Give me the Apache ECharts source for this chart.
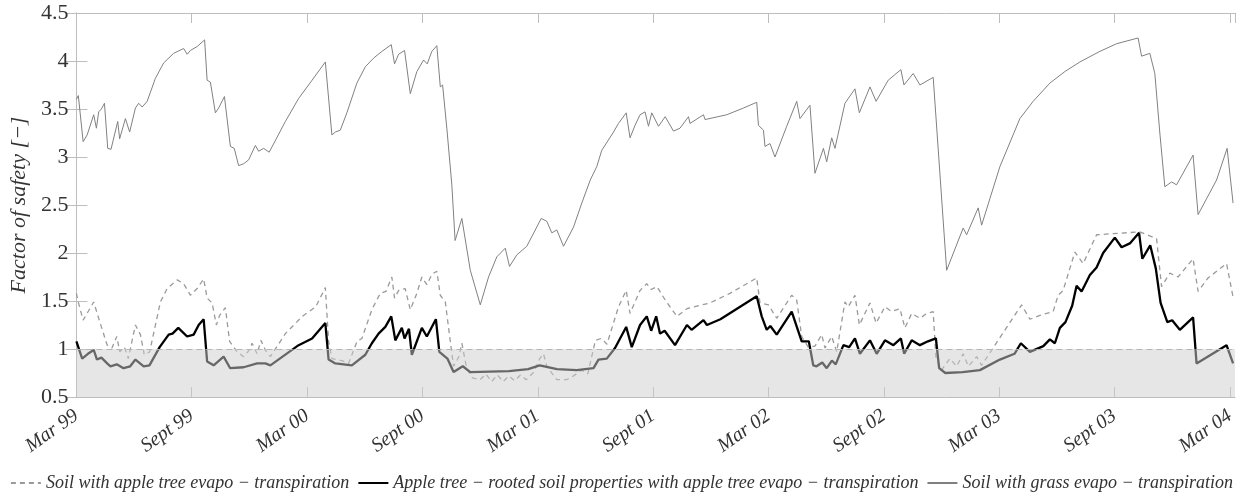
<!DOCTYPE html>
<html>
<head>
<meta charset="utf-8">
<script src="https://cdn.jsdelivr.net/npm/echarts@6/dist/echarts.min.js"></script>
<style>
  html, body { margin: 0; padding: 0; background: #fff; }
  #chart { width: 1243px; height: 493px; }
</style>
</head>
<body>
<div id="chart"></div>
<script>
// x = months since March 1999, y = factor of safety
const xTickLabels = ['Mar 99', 'Sept 99', 'Mar 00', 'Sept 00', 'Mar 01', 'Sept 01',
  'Mar 02', 'Sept 02', 'Mar 03', 'Sept 03', 'Mar 04'];

const seriesNames = [
  'Soil with apple tree evapo − transpiration',
  'Apple tree − rooted soil properties with apple tree evapo − transpiration',
  'Soil with grass evapo − transpiration'
];

const appleSoil = [
  [0, 1.58], [0.07, 1.51], [0.35, 1.30], [0.9, 1.49], [1.16, 1.32], [1.6, 1.04], [1.85, 1.01],
  [2.1, 1.13], [2.26, 0.97], [2.5, 1.02], [2.7, 0.90], [3.07, 1.25], [3.33, 1.15], [3.53, 0.94],
  [3.81, 0.97], [4.37, 1.49], [4.72, 1.63], [5.24, 1.72], [5.58, 1.68], [5.93, 1.56], [6.28, 1.63],
  [6.62, 1.73], [6.80, 1.53], [7.06, 1.48], [7.28, 1.25], [7.45, 1.35], [7.75, 1.43], [7.97, 1.08],
  [8.36, 0.97], [8.70, 0.92], [8.96, 0.98], [9.14, 1.06], [9.40, 0.95], [9.6, 1.09], [9.85, 0.98],
  [10.09, 0.92], [10.87, 1.16], [11.75, 1.34], [12.45, 1.44], [12.95, 1.64], [13.12, 1.08],
  [13.29, 0.90], [13.8, 0.88], [14.16, 0.85], [14.6, 1.08], [14.85, 1.11], [15.37, 1.41],
  [15.81, 1.58], [16.1, 1.60], [16.41, 1.75], [16.55, 1.53], [16.76, 1.61], [17.1, 1.63],
  [17.37, 1.41], [17.71, 1.58], [17.97, 1.75], [18.23, 1.67], [18.5, 1.78], [18.75, 1.81],
  [18.93, 1.56], [19.19, 1.49], [19.45, 1.08], [19.62, 0.82], [19.9, 0.92], [20.05, 1.06],
  [20.3, 0.80], [20.6, 0.70], [21.0, 0.68], [21.3, 0.74], [21.6, 0.66], [21.9, 0.73], [22.2, 0.66],
  [22.5, 0.72], [22.8, 0.67], [23.1, 0.73], [23.4, 0.68], [23.8, 0.76], [24.1, 0.90], [24.3, 0.95],
  [24.47, 0.82], [24.99, 0.68], [25.5, 0.68], [25.86, 0.72], [26.29, 0.78], [26.6, 0.74],
  [27.0, 1.09], [27.3, 1.11], [27.6, 1.05], [28.2, 1.44], [28.60, 1.61], [28.80, 1.37],
  [29.32, 1.61], [29.67, 1.68], [29.9, 1.62], [30.2, 1.65], [30.63, 1.51], [31.24, 1.34],
  [31.76, 1.42], [32.96, 1.48], [34.0, 1.58], [35.39, 1.74], [35.56, 1.48], [36.0, 1.46],
  [36.43, 1.32], [37.21, 1.56], [37.47, 1.51], [37.73, 1.13], [38.07, 1.02], [38.42, 1.03],
  [38.77, 1.15], [38.94, 1.01], [39.29, 1.13], [39.55, 0.97], [39.98, 1.49], [40.15, 1.44],
  [40.5, 1.56], [40.73, 1.25], [41.28, 1.48], [41.60, 1.27], [42.06, 1.44], [42.41, 1.39],
  [42.84, 1.42], [43.1, 1.22], [43.45, 1.37], [43.88, 1.32], [44.23, 1.37], [44.57, 1.39],
  [44.71, 0.92], [45.0, 0.78], [45.44, 0.90], [45.79, 0.82], [46.13, 0.95], [46.4, 0.82],
  [46.83, 0.92], [47.09, 0.83], [49.17, 1.46], [49.6, 1.31], [50.12, 1.35], [50.81, 1.39],
  [51.07, 1.56], [51.33, 1.61], [51.94, 2.01], [52.37, 1.89], [53.07, 2.19], [55.32, 2.22],
  [56.19, 2.15], [56.45, 1.65], [56.88, 1.79], [57.31, 1.75], [58.09, 1.94], [58.35, 1.60],
  [58.87, 1.74], [59.83, 1.89], [60.17, 1.54]
];

const appleRooted = [
  [0, 1.08], [0.07, 1.08], [0.3, 0.90], [0.6, 0.95], [0.9, 0.99], [1.07, 0.89], [1.3, 0.91],
  [1.6, 0.85], [1.77, 0.82], [2.1, 0.84], [2.45, 0.80], [2.8, 0.82], [3.07, 0.89], [3.5, 0.82],
  [3.8, 0.83], [4.33, 1.02], [4.8, 1.15], [5.0, 1.16], [5.3, 1.22], [5.4, 1.23], [5.76, 1.13],
  [6.1, 1.15], [6.36, 1.25], [6.62, 1.31], [6.80, 0.87], [7.14, 0.83], [7.66, 0.92], [8.0, 0.80],
  [8.7, 0.81], [9.4, 0.85], [9.83, 0.85], [10.09, 0.83], [11.56, 1.04], [12.26, 1.11],
  [12.95, 1.27], [13.12, 0.89], [13.47, 0.85], [14.33, 0.83], [15.03, 0.94], [15.37, 1.06],
  [15.72, 1.16], [16.07, 1.23], [16.38, 1.34], [16.59, 1.09], [16.93, 1.22], [17.07, 1.11],
  [17.3, 1.21], [17.45, 0.94], [17.97, 1.22], [18.23, 1.13], [18.70, 1.31], [18.88, 0.97],
  [19.3, 0.90], [19.62, 0.76], [20.1, 0.82], [20.49, 0.76], [22.5, 0.77], [23.5, 0.79],
  [24.1, 0.83], [25.0, 0.79], [26.03, 0.78], [26.9, 0.80], [27.16, 0.89], [27.59, 0.90],
  [28.02, 1.01], [28.60, 1.23], [28.89, 1.02], [29.32, 1.25], [29.67, 1.34], [29.9, 1.19],
  [30.16, 1.34], [30.36, 1.16], [30.6, 1.19], [31.14, 1.04], [31.76, 1.25], [32.0, 1.20],
  [32.62, 1.30], [32.8, 1.25], [33.5, 1.31], [35.39, 1.55], [35.65, 1.34], [35.91, 1.20],
  [36.1, 1.24], [36.43, 1.15], [37.21, 1.39], [37.73, 1.08], [38.1, 1.08], [38.33, 0.83],
  [38.5, 0.82], [38.8, 0.86], [39.03, 0.80], [39.3, 0.88], [39.5, 0.84], [39.9, 1.04],
  [40.2, 1.02], [40.5, 1.11], [40.76, 0.95], [41.28, 1.09], [41.63, 0.95], [42.06, 1.09],
  [42.5, 1.04], [42.89, 1.11], [43.06, 0.95], [43.45, 1.09], [43.88, 1.04], [44.3, 1.08],
  [44.71, 1.11], [44.88, 0.80], [45.2, 0.75], [46.1, 0.76], [47.0, 0.78], [48.04, 0.89],
  [48.8, 0.95], [49.13, 1.06], [49.6, 0.97], [50.3, 1.03], [50.64, 1.10], [50.9, 1.06],
  [51.16, 1.22], [51.45, 1.28], [51.8, 1.45], [52.03, 1.66], [52.29, 1.60], [52.72, 1.77],
  [53.07, 1.85], [53.41, 2.00], [54.02, 2.16], [54.37, 2.06], [54.8, 2.10], [55.28, 2.21],
  [55.45, 1.94], [55.86, 2.08], [56.15, 1.84], [56.4, 1.48], [56.75, 1.28], [57.0, 1.30],
  [57.40, 1.20], [58.09, 1.33], [58.27, 0.85], [59.83, 1.04], [60.17, 0.85]
];

const grassSoil = [
  [0, 3.60], [0.1, 3.64], [0.35, 3.16], [0.56, 3.23], [0.9, 3.44], [1.04, 3.30], [1.16, 3.47],
  [1.3, 3.50], [1.46, 3.56], [1.63, 3.09], [1.8, 3.08], [2.15, 3.37], [2.25, 3.19], [2.55, 3.40],
  [2.77, 3.26], [3.07, 3.51], [3.24, 3.56], [3.42, 3.52], [3.68, 3.58], [4.11, 3.82], [4.54, 3.98],
  [5.06, 4.08], [5.58, 4.13], [5.76, 4.07], [5.93, 4.11], [6.28, 4.15], [6.67, 4.22], [6.80, 3.80],
  [6.97, 3.78], [7.23, 3.46], [7.40, 3.51], [7.70, 3.63], [8.01, 3.11], [8.21, 3.09], [8.44, 2.91],
  [8.70, 2.93], [8.96, 2.97], [9.31, 3.12], [9.48, 3.06], [9.74, 3.09], [10.03, 3.05],
  [10.87, 3.37], [11.56, 3.61], [12.26, 3.80], [12.95, 3.99], [13.29, 3.23], [13.47, 3.26],
  [13.73, 3.28], [14.07, 3.46], [14.59, 3.77], [15.03, 3.94], [15.46, 4.03], [15.89, 4.10],
  [16.38, 4.17], [16.55, 3.97], [16.76, 4.07], [17.07, 4.11], [17.37, 3.66], [17.71, 3.89],
  [18.06, 4.01], [18.25, 3.97], [18.49, 4.10], [18.75, 4.16], [18.93, 3.73], [19.05, 3.75],
  [19.27, 3.30], [19.53, 2.71], [19.70, 2.13], [20.05, 2.36], [20.49, 1.82], [21.01, 1.46],
  [21.44, 1.75], [21.87, 1.96], [22.31, 2.05], [22.53, 1.86], [22.91, 1.98], [23.43, 2.07],
  [24.18, 2.36], [24.47, 2.33], [24.73, 2.21], [24.99, 2.24], [25.34, 2.07], [25.86, 2.27],
  [26.29, 2.52], [26.73, 2.76], [27.07, 2.90], [27.33, 3.07], [27.94, 3.26], [28.20, 3.35],
  [28.60, 3.46], [28.80, 3.20], [29.06, 3.33], [29.32, 3.44], [29.58, 3.47], [29.76, 3.32],
  [29.93, 3.46], [30.28, 3.32], [30.63, 3.42], [31.06, 3.27], [31.40, 3.30], [31.84, 3.42],
  [31.92, 3.35], [32.62, 3.44], [32.70, 3.39], [33.83, 3.44], [34.70, 3.51], [35.39, 3.57],
  [35.48, 3.33], [35.74, 3.28], [35.82, 3.11], [36.08, 3.14], [36.34, 3.00], [36.95, 3.32],
  [37.47, 3.58], [37.64, 3.40], [38.16, 3.54], [38.42, 2.83], [38.86, 3.09], [39.03, 2.95],
  [39.29, 3.20], [39.46, 3.09], [39.98, 3.56], [40.50, 3.71], [40.73, 3.46], [41.28, 3.73],
  [41.60, 3.58], [42.23, 3.80], [42.89, 3.91], [43.05, 3.75], [43.53, 3.87], [43.88, 3.75],
  [44.57, 3.83], [44.66, 3.82], [45.27, 1.82], [46.13, 2.26], [46.31, 2.19], [46.91, 2.47],
  [47.09, 2.29], [48.04, 2.90], [49.08, 3.40], [49.77, 3.58], [50.64, 3.77], [51.42, 3.89],
  [52.20, 3.99], [53.24, 4.10], [54.11, 4.18], [55.23, 4.24], [55.41, 4.05], [55.84, 4.08],
  [56.10, 3.87], [56.36, 3.25], [56.62, 2.69], [56.97, 2.74], [57.23, 2.71], [58.09, 3.02],
  [58.35, 2.40], [59.31, 2.76], [59.86, 3.09], [60.17, 2.52]
];

const failureLimit = 1;

const chart = echarts.init(document.getElementById('chart'));
const serif = "'Liberation Serif', 'Times New Roman', serif";
const frameColor = '#bdbdbd';

const tickFormatter = function (v) {
    const i = Math.round(v / 6);
    return Math.abs(v - i * 6) < 1e-6 ? (xTickLabels[i] || '') : '';
};

const option = {
    animation: false,
    textStyle: { fontFamily: serif },
    grid: { left: 76, right: 8, top: 13, bottom: 96 },
    legend: {
        top: 469,
        left: 'center',
        itemGap: 8,
        itemWidth: 30,
        itemHeight: 10,
        data: seriesNames,
        itemStyle: { opacity: 0 },
        textStyle: { fontFamily: serif, fontStyle: 'italic', fontSize: 18, color: '#333' }
    },
    xAxis: [{
        type: 'value',
        min: 0,
        max: 60.27,
        interval: 6,
        splitLine: { show: false },
        axisLine: { lineStyle: { color: frameColor } },
        axisTick: { inside: true, length: 10, lineStyle: { color: frameColor } },
        axisLabel: {
            formatter: tickFormatter,
            rotate: 35,
            margin: 17,
            fontFamily: serif,
            fontStyle: 'italic',
            fontSize: 20,
            color: '#333',
            showMaxLabel: false
        }
    }, {
        type: 'value',
        position: 'top',
        min: 0,
        max: 60.27,
        interval: 6,
        splitLine: { show: false },
        axisLine: { lineStyle: { color: frameColor } },
        axisTick: { inside: true, length: 10, lineStyle: { color: frameColor } },
        axisLabel: { show: false }
    }],
    yAxis: [{
        type: 'value',
        min: 0.5,
        max: 4.5,
        interval: 0.5,
        name: 'Factor of safety [−]',
        nameLocation: 'middle',
        nameGap: 44,
        nameTextStyle: { fontFamily: serif, fontStyle: 'italic', fontSize: 22, color: '#333' },
        splitLine: { show: false },
        axisLine: { show: true, lineStyle: { color: frameColor } },
        axisTick: { show: true, inside: true, length: 11, lineStyle: { color: frameColor } },
        axisLabel: { fontFamily: serif, fontSize: 22, color: '#333', margin: 8 }
    }, {
        type: 'value',
        position: 'right',
        min: 0.5,
        max: 4.5,
        interval: 0.5,
        splitLine: { show: false },
        axisLine: { show: true, lineStyle: { color: frameColor } },
        axisTick: { show: true, inside: true, length: 11, lineStyle: { color: frameColor } },
        axisLabel: { show: false }
    }],
    series: [{
        name: seriesNames[0],
        type: 'line',
        data: appleSoil,
        symbol: 'none',
        z: 2,
        lineStyle: { color: '#9a9a9a', width: 1.3, type: [5, 4] },
        itemStyle: { color: '#9a9a9a' }
    }, {
        name: seriesNames[1],
        type: 'line',
        data: appleRooted,
        symbol: 'none',
        z: 3,
        lineStyle: { color: '#000', width: 2.3 },
        itemStyle: { color: '#000' }
    }, {
        name: seriesNames[2],
        type: 'line',
        data: grassSoil,
        symbol: 'none',
        z: 2,
        lineStyle: { color: '#808080', width: 1 },
        itemStyle: { color: '#808080' }
    }, {
        name: 'limit',
        type: 'line',
        data: [],
        z: 10,
        silent: true,
        markArea: {
            silent: true,
            z: 10,
            itemStyle: { color: 'rgba(205, 205, 205, 0.5)' },
            data: [[{ yAxis: 0.5 }, { yAxis: failureLimit }]]
        },
        markLine: {
            silent: true,
            z: 11,
            symbol: 'none',
            label: { show: false },
            lineStyle: { color: '#b5b5b5', type: [6, 4], width: 1 },
            data: [{ yAxis: failureLimit }]
        }
    }]
};

chart.setOption(option);
</script>
</body>
</html>
